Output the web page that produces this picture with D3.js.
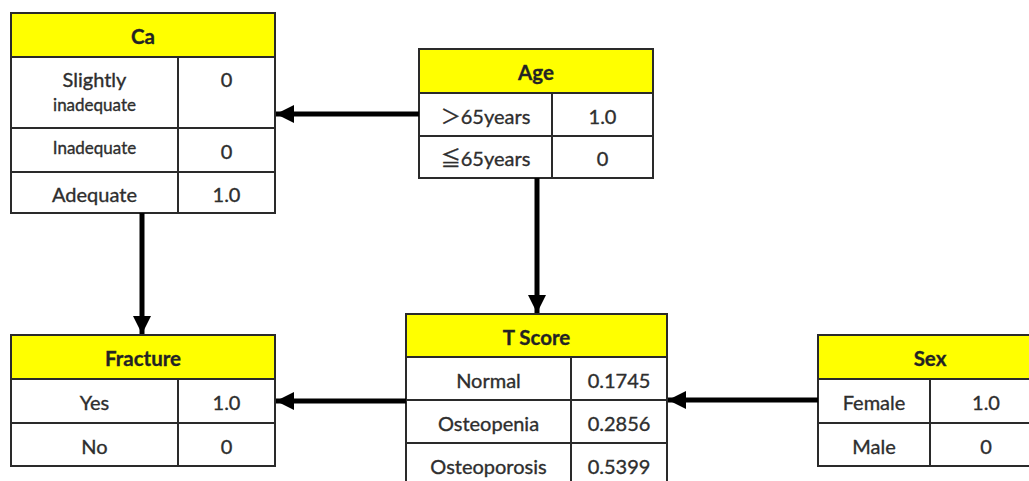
<!DOCTYPE html>
<html><head><meta charset="utf-8">
<script src="https://cdn.jsdelivr.net/npm/d3@7"></script>
<style>
html,body{margin:0;padding:0;background:#fff;}
svg{display:block;}
</style></head>
<body>
<svg id="c" width="1029" height="481"></svg>
<script>
// ---- data ----
const nodeNames = ["Ca", "Age", "Fracture", "T Score", "Sex"];
const caStates = ["Slightly|inadequate", "Inadequate", "Adequate"];
const caValues = ["0", "0", "1.0"];
const ageStates = ["＞65years", "≦65years"];
const ageValues = ["1.0", "0"];
const fractureStates = ["Yes", "No"];
const fractureValues = ["1.0", "0"];
const tscoreStates = ["Normal", "Osteopenia", "Osteoporosis"];
const tscoreValues = ["0.1745", "0.2856", "0.5399"];
const sexStates = ["Female", "Male"];
const sexValues = ["1.0", "0"];
const edges = [["Age","Ca"],["Ca","Fracture"],["Age","T Score"],["T Score","Fracture"],["Sex","T Score"]];

// ---- layout ----
const layout = {
  "Ca":      {x:11,  y:13,  w:264, hh:44, div:167, rows:[71,44,41], states:caStates, values:caValues},
  "Age":     {x:419, y:49,  w:234, hh:44, div:133, rows:[43,42], states:ageStates, values:ageValues},
  "Fracture":{x:11,  y:335, w:264, hh:44, div:167, rows:[44,43], states:fractureStates, values:fractureValues},
  "T Score": {x:406, y:314, w:261, hh:43, div:165, rows:[43,43,43], states:tscoreStates, values:tscoreValues},
  "Sex":     {x:818, y:335, w:224, hh:44, div:112, rows:[44,43], states:sexStates, values:sexValues}
};
const svg = d3.select("#c");
const font = "Lato, 'Open Sans', 'Noto Sans', 'Noto Sans CJK JP', sans-serif";
const textColor = "#2e2e2e";
const border = "#2a2a2a";
const FS = 20, FSH = 20.5, FSS = 17;

const defs = svg.append("defs");
defs.append("marker").attr("id","arr").attr("viewBox","0 0 10 10")
  .attr("refX",10).attr("refY",5).attr("markerUnits","userSpaceOnUse")
  .attr("markerWidth",18).attr("markerHeight",18).attr("orient","auto")
  .append("path").attr("d","M0,0 L10,5 L0,10 Z").attr("fill","#000");

function txt(g, x, y, s, size, bold) {
  return g.append("text").attr("x",x).attr("y",y)
    .attr("text-anchor","middle").attr("dominant-baseline","central")
    .attr("font-family",font).attr("font-size",size)
    .attr("font-weight", bold ? "bold" : "normal")
    .attr("fill",textColor).attr("stroke",textColor).attr("stroke-width",0.35)
    .text(s);
}

nodeNames.forEach(name => {
  const L = layout[name];
  const g = svg.append("g");
  g.append("rect").attr("x",L.x).attr("y",L.y).attr("width",L.w).attr("height",L.hh)
    .attr("fill","#ffff00").attr("stroke",border).attr("stroke-width",2);
  txt(g, L.x+L.w/2, L.y+L.hh/2+1, name, FSH, true).attr("fill","#222");
  let y = L.y + L.hh;
  L.rows.forEach((h,i) => {
    g.append("rect").attr("x",L.x).attr("y",y).attr("width",L.w).attr("height",h)
      .attr("fill","#fff").attr("stroke",border).attr("stroke-width",2);
    g.append("line").attr("x1",L.x+L.div).attr("x2",L.x+L.div).attr("y1",y).attr("y2",y+h)
      .attr("stroke",border).attr("stroke-width",2);
    const st = L.states[i];
    const cxL = L.x + L.div/2, cxR = L.x + L.div + (L.w-L.div)/2;
    if (st.includes("|")) {
      const parts = st.split("|");
      txt(g, cxL, y+22, parts[0], FS);
      txt(g, cxL, y+47, parts[1], FSS);
      txt(g, cxR, y+22, L.values[i], FS);
    } else {
      const small = st === "Inadequate";
      txt(g, cxL, y+h/2 + (small?-3:1), st, small?FSS:FS);
      txt(g, cxR, y+h/2+1, L.values[i], FS);
    }
    y += h;
  });
});

// edges
function edgeCoords(from, to) {
  const A = layout[from], B = layout[to];
  const aH = A.hh + d3.sum(A.rows);
  if (from==="Age" && to==="Ca") return [A.x, 114, B.x+B.w+1, 114];
  if (from==="Ca" && to==="Fracture") return [142, A.y+aH, 142, B.y-1];
  if (from==="Age" && to==="T Score") return [537, A.y+aH, 537, B.y-1];
  if (from==="T Score" && to==="Fracture") return [A.x, 401, B.x+B.w+1, 401];
  if (from==="Sex" && to==="T Score") return [A.x, 400, B.x+B.w+1, 400];
}
edges.forEach(([f,t]) => {
  const [x1,y1,x2,y2] = edgeCoords(f,t);
  svg.append("line").attr("x1",x1).attr("y1",y1).attr("x2",x2).attr("y2",y2)
    .attr("stroke","#000").attr("stroke-width",5).attr("marker-end","url(#arr)");
});
</script>
</body></html>
